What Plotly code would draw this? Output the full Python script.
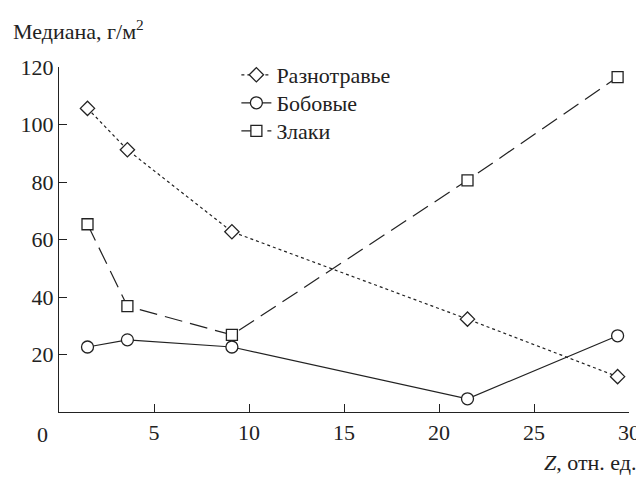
import plotly.graph_objects as go

z = [1.5, 3.6, 9.1, 21.5, 29.4]
raznotravie = [105.6, 91.2, 62.7, 32.3, 12.3]
bobovye = [22.6, 25.1, 22.6, 4.6, 26.5]
zlaki = [65.3, 36.8, 26.8, 80.6, 116.5]

x_ticks = [5, 10, 15, 20, 25, 30]
y_ticks = [20, 40, 60, 80, 100, 120]

FONT = "Times New Roman"
FS = 22
C = "#222222"

# page body has an 8px margin; plot area should be x 58..630, y 67..412
L, T = 50, 59
PW, PH = 572, 345
R = 644 - L - PW
B = 480 - T - PH


def f():
    return dict(family=FONT, size=FS)


fig = go.Figure()
fig.add_trace(go.Scatter(x=z, y=raznotravie, name="Разнотравье", mode="lines+markers",
                         legend="legend",
                         line=dict(color=C, width=1.2, dash="3px,3px"),
                         marker=dict(symbol="diamond", size=11, color="white",
                                     line=dict(color=C, width=1.3))))
fig.add_trace(go.Scatter(x=z, y=bobovye, name="Бобовые", mode="lines+markers",
                         legend="legend2",
                         line=dict(color=C, width=1.2),
                         marker=dict(symbol="circle", size=12, color="white",
                                     line=dict(color=C, width=1.3))))
fig.add_trace(go.Scatter(x=z, y=zlaki, name="Злаки", mode="lines+markers",
                         legend="legend3",
                         line=dict(color=C, width=1.2, dash="18px,8px"),
                         marker=dict(symbol="square", size=11, color="white",
                                     line=dict(color=C, width=1.3))))


def leg(row_y):
    return dict(x=(236 - 58) / PW, y=(412 - row_y) / PH, xanchor="left", yanchor="middle",
                bgcolor="rgba(0,0,0,0)", font=f(), itemwidth=30)


fig.update_layout(
    width=644, height=480,
    margin=dict(l=L, r=R, t=T, b=B),
    paper_bgcolor="white", plot_bgcolor="white",
    showlegend=True,
    legend=leg(75), legend2=leg(103), legend3=leg(131),
    xaxis=dict(range=[0, 30], tickvals=x_ticks, ticks="inside", ticklen=8,
               tickcolor=C, showline=True, linecolor=C, linewidth=1.2,
               showgrid=False, zeroline=False, tickfont=f()),
    yaxis=dict(range=[0, 120], tickvals=y_ticks, ticks="inside", ticklen=8,
               tickcolor=C, showline=True, linecolor=C, linewidth=1.2,
               showgrid=False, zeroline=False, tickfont=f()),
    annotations=[
        dict(text="Медиана, г/м<sup>2</sup>", xref="paper", yref="paper",
             x=-48 / PW, y=(412 - 30) / PH, xanchor="left", yanchor="middle",
             showarrow=False, font=f()),
        dict(text="0", xref="paper", yref="paper", x=-17 / PW, y=0,
             xanchor="center", yanchor="top", yshift=-8, showarrow=False,
             font=f()),
        dict(text="<i>Z</i>, отн. ед.", xref="paper", yref="paper", x=(640 - 58) / PW,
             y=-(462 - 412) / PH, xanchor="right", yanchor="middle", showarrow=False,
             font=f()),
    ],
)
fig.update_layout(font_color=C)
fig.write_html("out.html")
